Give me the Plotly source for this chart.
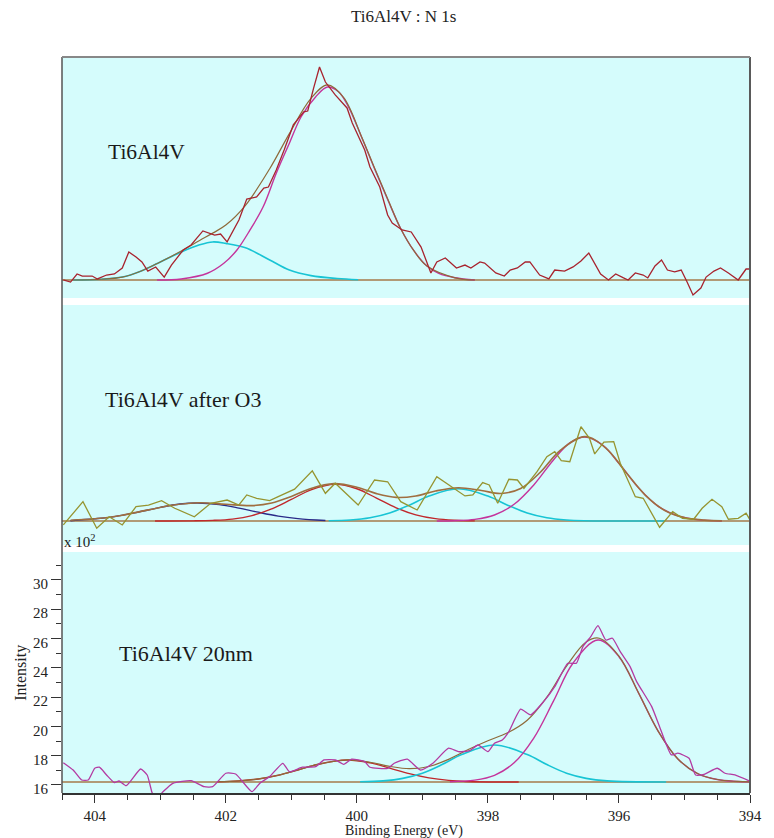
import plotly.graph_objects as go
from plotly.subplots import make_subplots

# ---------------- data ----------------
# Top panel: Ti6Al4V (relative intensity above baseline)
top_raw_E = [404.48,404.37,404.27,404.19,404.04,403.96,403.82,403.70,403.58,403.48,
             403.37,403.28,403.19,403.07,402.94,402.83,402.65,402.53,402.35,402.17,
             402.08,401.98,401.80,401.68,401.53,401.42,401.35,401.23,401.11,400.97,
             400.81,400.75,400.66,400.57,400.48,400.33,400.15,400.07,399.88,399.80,
             399.65,399.53,399.46,399.31,399.17,399.02,398.87,398.78,398.65,398.48,
             398.35,398.26,398.12,398.05,397.88,397.75,397.66,397.55,397.43,397.36,
             397.21,397.07,396.98,396.83,396.70,396.58,396.46,396.28,396.16,396.05,
             395.93,395.86,395.75,395.63,395.56,395.45,395.35,395.26,395.15,395.05,
             394.96,394.87,394.75,394.67,394.55,394.45,394.33,394.18,394.06,394.00]
top_raw_I = [0.00,-0.14,0.41,0.27,0.27,0.07,0.34,0.41,0.82,1.91,
             1.57,1.23,0.61,0.89,0.20,1.02,2.05,2.39,3.35,3.07,
             3.14,2.60,4.10,5.53,5.67,6.28,6.35,7.51,8.88,10.59,
             11.48,11.54,13.11,14.55,13.52,12.64,11.75,10.72,8.88,7.72,
             6.35,4.44,3.89,3.42,3.28,2.25,0.48,1.23,1.50,0.82,
             1.02,0.82,1.23,1.16,0.48,0.27,0.68,0.82,1.23,1.23,
             0.34,0.07,0.68,0.61,0.89,1.30,1.84,0.41,0.00,0.41,
             0.14,0.00,0.48,0.34,0.14,0.96,1.37,0.68,0.55,0.68,
             -0.14,-1.02,-0.55,0.20,0.61,0.82,0.48,0.00,0.75,0.75]
top_cyan_E = [404.33,403.9,403.58,403.3,403.03,402.68,402.4,402.2,402.0,401.7,401.33,401.03,400.7,400.3,399.98]
top_cyan_I = [0.0,0.05,0.2,0.6,1.16,1.91,2.4,2.6,2.5,2.2,1.37,0.68,0.3,0.1,0.02]
top_mag_E = [403.05,402.68,402.28,402.03,401.83,401.63,401.43,401.23,401.03,400.85,400.63,400.45,
             400.28,400.13,399.93,399.73,399.53,399.33,399.13,398.93,398.75,398.5,398.2]
top_mag_I = [0.0,0.07,0.46,1.14,2.05,3.42,5.0,7.29,9.34,11.15,12.5,13.18,
             12.86,11.84,9.79,7.6,5.5,3.5,2.0,0.95,0.45,0.15,0.0]
top_env_E = [404.33,403.9,403.58,403.3,403.03,402.68,402.4,402.2,402.0,401.7,401.33,401.03,400.7,
             400.45,400.2,399.93,399.73,399.53,399.33,399.13,398.93,398.5,398.2]
top_env_I = [0.0,0.05,0.2,0.6,1.16,1.98,2.7,3.2,3.75,5.1,7.6,10.0,12.4,
             13.33,12.45,9.8,7.65,5.55,3.5,2.0,0.95,0.15,0.0]
top_base = 0.0

# Middle panel: Ti6Al4V after O3
mid_raw_E = [404.48,404.18,403.97,403.78,403.58,403.37,403.18,402.98,402.78,402.48,
             402.23,401.98,401.80,401.68,401.53,401.33,401.20,400.95,400.68,400.48,
             400.33,399.98,399.73,399.53,399.33,399.08,398.78,398.60,398.35,398.23,
             398.08,397.98,397.85,397.68,397.55,397.45,397.25,397.10,396.98,396.88,
             396.75,396.58,396.45,396.37,396.23,396.08,395.98,395.75,395.63,395.38,
             395.18,395.03,394.86,394.73,394.58,394.43,394.33,394.18,394.06,393.99]
mid_raw_I = [-0.27,1.32,-0.50,0.29,-0.27,0.98,1.09,1.39,0.87,0.29,
             1.21,1.43,1.09,1.78,1.55,1.39,1.66,2.17,3.42,1.89,
             2.58,1.09,2.80,2.68,1.32,0.75,3.03,2.46,1.71,1.78,
             2.62,2.46,1.21,2.85,2.80,2.23,3.37,4.39,4.73,4.12,
             4.05,6.44,5.65,4.58,5.38,5.42,3.94,1.66,1.55,-0.43,
             0.64,0.18,0.12,0.87,1.48,0.98,0.12,0.18,0.53,0.00]
mid_blue_E = [404.37,404.0,403.7,403.33,403.0,402.7,402.43,402.1,401.8,401.53,401.2,400.9,400.48]
mid_blue_I = [0.02,0.15,0.3,0.61,0.93,1.16,1.23,1.12,0.88,0.62,0.33,0.16,0.03]
mid_red_E = [403.08,402.5,402.2,401.9,401.6,401.3,401.0,400.7,400.33,400.0,399.7,399.4,399.1,398.8,398.5,398.2]
mid_red_I = [0.0,0.01,0.04,0.13,0.37,0.82,1.47,2.13,2.5,2.2,1.56,0.9,0.42,0.16,0.05,0.01]
mid_cyan_E = [400.43,400.1,399.8,399.5,399.2,398.9,398.45,398.0,397.7,397.4,397.1,396.8,396.53,395.3]
mid_cyan_I = [0.02,0.07,0.22,0.55,1.08,1.7,2.2,1.7,1.08,0.55,0.22,0.07,0.02,0.0]
mid_mag_E = [398.78,398.5,398.2,397.9,397.6,397.3,397.0,396.75,396.52,396.25,396.0,395.7,395.4,395.1,394.8,394.43]
mid_mag_I = [0.0,0.02,0.11,0.41,1.14,2.46,4.17,5.33,5.74,5.19,3.94,2.26,1.0,0.35,0.09,0.0]
mid_env_E = [404.37,404.0,403.6,403.2,402.8,402.4,402.0,401.6,401.3,401.0,400.7,400.35,400.0,399.7,399.4,
             399.1,398.8,398.45,398.1,397.8,397.5,397.2,396.9,396.52,396.2,395.9,395.6,395.3,395.0,394.7,394.43]
mid_env_I = [0.05,0.15,0.38,0.74,1.09,1.25,1.14,1.05,1.23,1.68,2.22,2.55,2.31,1.87,1.61,
             1.71,2.05,2.27,2.08,1.88,2.22,3.33,4.81,5.76,4.98,3.36,1.77,0.72,0.23,0.06,0.01]
mid_base = 0.0

# Bottom panel: Ti6Al4V 20nm (Intensity x 10^2)
bot_raw_E = [404.48,404.33,404.20,404.10,404.00,403.93,403.82,403.70,403.63,403.52,
             403.30,403.20,403.13,403.05,402.98,402.80,402.53,402.33,402.20,402.00,
             401.85,401.60,401.48,401.33,401.13,401.03,400.83,400.63,400.50,400.33,
             400.20,400.08,399.88,399.80,399.53,399.43,399.23,399.03,398.83,398.60,
             398.45,398.28,398.15,398.00,397.90,397.78,397.68,397.50,397.35,397.15,
             396.98,396.78,396.65,396.55,396.43,396.32,396.20,396.10,395.98,395.83,
             395.73,395.50,395.38,395.20,395.10,394.93,394.83,394.70,394.50,394.38,
             394.23,393.99]
bot_raw_I = [17.52,17.02,16.34,16.34,17.14,17.21,16.68,16.16,16.27,15.95,
             17.09,16.68,15.54,14.63,15.43,16.12,16.29,15.88,15.88,16.80,
             16.75,15.54,16.12,16.57,17.48,16.91,17.21,17.25,17.71,17.71,
             17.41,17.76,17.59,17.21,17.14,17.48,17.76,17.02,17.52,18.51,
             18.27,18.34,18.73,18.27,18.85,19.07,19.64,21.17,20.78,21.69,
             22.71,24.31,24.31,25.45,26.13,26.88,25.90,26.02,25.10,24.08,
             23.06,21.35,19.98,18.05,18.17,17.82,16.68,16.73,17.14,16.80,
             16.68,16.23]
bot_red_E = [402.13,401.8,401.5,401.2,400.9,400.6,400.15,399.8,399.5,399.2,398.9,398.6,398.33,397.53]
bot_red_I = [16.22,16.28,16.41,16.66,17.02,17.4,17.7,17.51,17.15,16.77,16.48,16.31,16.24,16.2]
bot_cyan_E = [399.95,399.6,399.3,399.0,398.7,398.4,397.9,397.4,397.1,396.8,396.5,396.18,395.28]
bot_cyan_I = [16.22,16.28,16.45,16.8,17.39,18.08,18.73,18.08,17.39,16.8,16.45,16.28,16.2]
bot_mag_E = [398.58,398.2,397.9,397.6,397.3,397.0,396.7,396.32,396.0,395.7,395.4,395.1,394.8,394.5,394.2,393.99]
bot_mag_I = [16.22,16.33,16.66,17.51,19.2,21.72,24.33,25.9,24.76,22.27,19.66,17.77,16.78,16.37,16.24,16.21]
bot_env_E = [402.13,401.8,401.5,401.2,400.9,400.6,400.15,399.8,399.5,399.2,398.9,398.6,398.3,398.0,
             397.7,397.4,397.1,396.8,396.5,396.3,396.0,395.7,395.4,395.1,394.8,394.5,394.2,393.99]
bot_env_I = [16.22,16.28,16.41,16.66,17.02,17.4,17.71,17.55,17.27,17.11,17.26,17.75,18.42,19.02,
             19.56,20.42,22.0,24.12,25.77,26.02,24.8,22.28,19.66,17.77,16.78,16.37,16.24,16.21]
bot_base = 16.2

x_range = [404.5, 394.0]
x_ticks = [404, 402, 400, 398, 396, 394]
y_ticks = [16, 18, 20, 22, 24, 26, 28, 30]

panel_labels = ["Ti6Al4V", "Ti6Al4V after O3", "Ti6Al4V 20nm"]
title_text = "Ti6Al4V : N 1s"

# ---------------- styling ----------------
BG = "#D5FCFC"
C_BASE = "#A57A4A"
C_ENV = "#8E6A3A"
C_CYAN = "#18C4D4"
C_MAG = "#C4349C"
C_RED = "#C0282C"
C_BLUE = "#2A2A88"
C_TOPRAW = "#A8232E"
C_MIDRAW = "#969430"
C_BOTRAW = "#B33AA2"
FONT = "Liberation Serif"

fig = make_subplots(rows=3, cols=1, shared_xaxes=True, vertical_spacing=0.0095)


def add(row, x, y, color, width=1.3, shape="linear", smoothing=1.0):
    line = dict(color=color, width=width, shape=shape)
    if shape == "spline":
        line["smoothing"] = smoothing
    fig.add_trace(go.Scatter(x=x, y=y, mode="lines", line=line,
                             hoverinfo="skip", showlegend=False), row=row, col=1)


# top
add(1, x_range, [top_base, top_base], C_BASE, 1.4)
add(1, top_cyan_E, top_cyan_I, C_CYAN, 1.6, "spline")
add(1, top_mag_E, top_mag_I, C_MAG, 1.4, "spline")
add(1, top_env_E, top_env_I, C_ENV, 1.2, "spline")
add(1, top_raw_E, top_raw_I, C_TOPRAW, 1.3)
# middle
add(2, x_range, [mid_base, mid_base], C_BASE, 1.4)
add(2, mid_blue_E, mid_blue_I, C_BLUE, 1.4, "spline")
add(2, mid_red_E, mid_red_I, C_RED, 1.4, "spline")
add(2, mid_cyan_E, mid_cyan_I, C_CYAN, 1.6, "spline")
add(2, mid_mag_E, mid_mag_I, C_MAG, 1.4, "spline")
add(2, mid_env_E, mid_env_I, "#A06E40", 1.6, "spline")
add(2, mid_raw_E, mid_raw_I, C_MIDRAW, 1.3)
# bottom
add(3, x_range, [bot_base, bot_base], C_BASE, 1.4)
add(3, bot_red_E, bot_red_I, C_RED, 1.4, "spline")
add(3, bot_cyan_E, bot_cyan_I, C_CYAN, 1.6, "spline")
add(3, bot_mag_E, bot_mag_I, C_MAG, 1.4, "spline")
add(3, bot_env_E, bot_env_I, C_ENV, 1.2, "spline")
add(3, bot_raw_E, bot_raw_I, C_BOTRAW, 1.3, "spline", 0.5)

fig.update_layout(
    width=774, height=838,
    margin=dict(l=62, r=12, t=57, b=45),
    paper_bgcolor="white", plot_bgcolor=BG,
    showlegend=False,
    font=dict(family=FONT, color="#222222"),
)

hidden = dict(showticklabels=False, ticks="", showgrid=False, zeroline=False, showline=False)
fig.update_layout(
    yaxis=dict(domain=[0.67255, 1.0], range=[-1.23, 15.23], **hidden),
    yaxis2=dict(domain=[0.33696, 0.66304], range=[-1.64, 14.75], **hidden),
    yaxis3=dict(domain=[0.0, 0.32745], range=[15.45, 31.91],
                tickvals=y_ticks, ticktext=[str(v) for v in y_ticks],
                ticks="outside", ticklen=10, tickcolor="#333333", tickwidth=1,
                minor=dict(dtick=1, tick0=15, ticks="outside", ticklen=5,
                           tickcolor="#333333", tickwidth=1),
                ticklabelshift=4, ticklabelstandoff=0,
                showgrid=False, zeroline=False, showline=False,
                tickfont=dict(size=15, family=FONT, color="#222222")),
    xaxis=dict(range=x_range, **hidden),
    xaxis2=dict(range=x_range, **hidden),
    xaxis3=dict(range=x_range, tickvals=x_ticks, ticktext=[str(v) for v in x_ticks],
                ticks="outside", ticklen=8, tickcolor="#333333", tickwidth=1,
                minor=dict(dtick=0.5, tick0=394, ticks="outside", ticklen=5,
                           tickcolor="#333333", tickwidth=1),
                showgrid=False, zeroline=False,
                showline=True, linecolor="#333333", linewidth=1.5,
                tickfont=dict(size=15, family=FONT, color="#222222")),
)

# frame
fig.add_shape(type="line", xref="paper", yref="paper", x0=0, x1=0, y0=0, y1=1,
              line=dict(color="#555555", width=1.5))
fig.add_shape(type="line", xref="paper", yref="paper", x0=1, x1=1, y0=0, y1=1,
              line=dict(color="#5a5a5a", width=2))
fig.add_shape(type="line", xref="paper", yref="paper", x0=0, x1=1, y0=1, y1=1,
              line=dict(color="#888888", width=2))

ann = dict(xref="paper", yref="paper", showarrow=False)
fig.add_annotation(text=title_text, x=0.497, y=1.0557, xanchor="center", yanchor="middle",
                   font=dict(size=17, family=FONT, color="#222222"), **ann)
fig.add_annotation(text=panel_labels[0], x=0.064, y=0.871, xanchor="left", yanchor="middle",
                   font=dict(size=21.5, family=FONT, color="#1a1a1a"), **ann)
fig.add_annotation(text=panel_labels[1], x=0.059, y=0.534, xanchor="left", yanchor="middle",
                   font=dict(size=22, family=FONT, color="#1a1a1a"), **ann)
fig.add_annotation(text=panel_labels[2], x=0.0804, y=0.19, xanchor="left", yanchor="middle",
                   font=dict(size=22, family=FONT, color="#1a1a1a"), **ann)
fig.add_annotation(text="x 10<sup>2</sup>", x=0.0, y=0.342, xanchor="left", yanchor="middle",
                   font=dict(size=15, family=FONT, color="#222222"), **ann)
fig.add_annotation(text="Intensity", x=-0.06, y=0.163, xanchor="center", yanchor="middle",
                   textangle=-90, font=dict(size=16, family=FONT, color="#222222"), **ann)
fig.add_annotation(text="Binding Energy (eV)", x=0.497, y=-0.0522, xanchor="center", yanchor="middle",
                   font=dict(size=14, family=FONT, color="#222222"), **ann)

fig.write_html("out.html")
